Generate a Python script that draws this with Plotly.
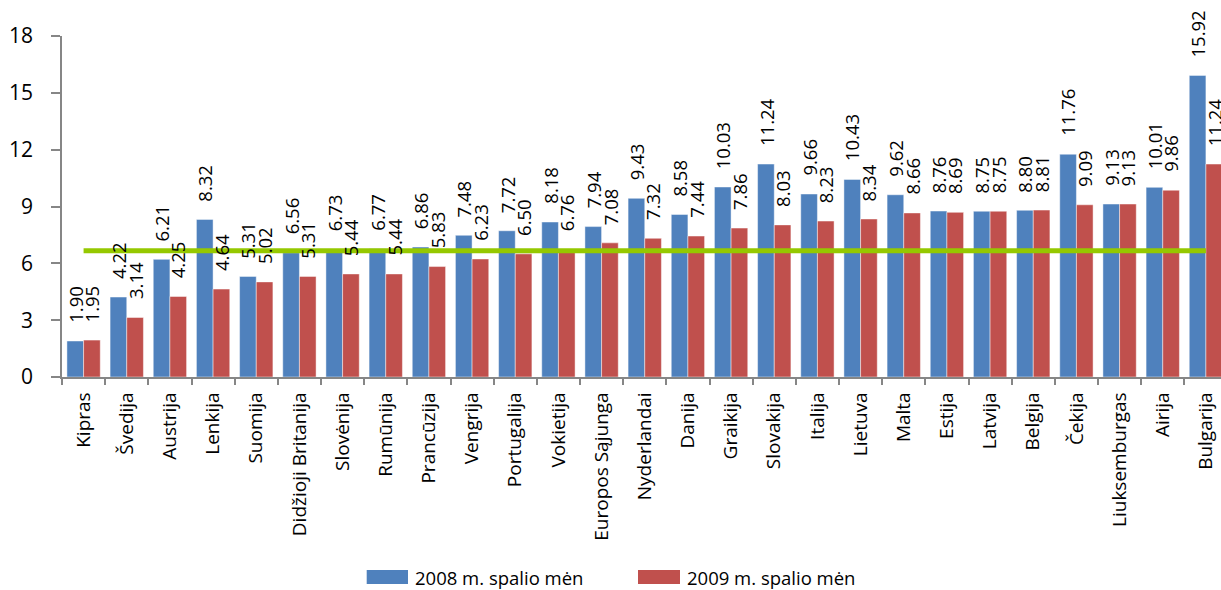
import plotly.graph_objects as go

categories = ["Kipras", "Švedija", "Austrija", "Lenkija", "Suomija", "Didžioji Britanija",
              "Slovėnija", "Rumūnija", "Prancūzija", "Vengrija", "Portugalija", "Vokietija",
              "Europos Sąjunga", "Nyderlandai", "Danija", "Graikija", "Slovakija", "Italija",
              "Lietuva", "Malta", "Estija", "Latvija", "Belgija", "Čekija", "Liuksemburgas",
              "Airija", "Bulgarija"]
values_2008 = [1.90, 4.22, 6.21, 8.32, 5.31, 6.56, 6.73, 6.77, 6.86, 7.48, 7.72, 8.18, 7.94,
               9.43, 8.58, 10.03, 11.24, 9.66, 10.43, 9.62, 8.76, 8.75, 8.80, 11.76, 9.13,
               10.01, 15.92]
values_2009 = [1.95, 3.14, 4.25, 4.64, 5.02, 5.31, 5.44, 5.44, 5.83, 6.23, 6.50, 6.76, 7.08,
               7.32, 7.44, 7.86, 8.03, 8.23, 8.34, 8.66, 8.69, 8.75, 8.81, 9.09, 9.13,
               9.86, 11.24]
reference_level = 6.67
series_names = ["2008 m. spalio mėn", "2009 m. spalio mėn"]
y_ticks = [0, 3, 6, 9, 12, 15, 18]

BLUE = "#4F81BD"
RED = "#C0504D"
GREEN = "#95C800"
FONT = "Open Sans"

W, H = 1221, 590
ML, MR, MT, MB = 62, 0, 36, 213
PW, PH = W - ML - MR, H - MT - MB


def px_x(p):
    return (p - ML) / PW


def px_y(p):
    return (H - MB - p) / PH


fig = go.Figure()
fig.add_trace(go.Bar(x=categories, y=values_2008, name=series_names[0],
                     marker=dict(color=BLUE, line=dict(color="rgba(255,255,255,0.45)", width=1))))
fig.add_trace(go.Bar(x=categories, y=values_2009, name=series_names[1],
                     marker=dict(color=RED, line=dict(color="rgba(255,255,255,0.45)", width=1))))
fig.add_trace(go.Scatter(x=categories, y=[reference_level] * len(categories), mode="lines",
                         line=dict(color=GREEN, width=5), showlegend=False, hoverinfo="skip"))

annotations = []
for i, cat in enumerate(categories):
    for vals, shift in ((values_2008, -8.3), (values_2009, 8.3)):
        annotations.append(dict(x=cat, y=vals[i], xref="x", yref="y", text=f"{vals[i]:.2f}",
                                textangle=-90, showarrow=False, xanchor="center", yanchor="bottom",
                                xshift=shift, yshift=16,
                                font=dict(family=FONT, size=18.5, color="black")))

# manual legend
shapes = []
legend_items = [(366.7, 408, BLUE, 413), (638, 680, RED, 685)]
for (x0, x1, col, tx), name in zip(legend_items, series_names):
    shapes.append(dict(type="rect", xref="paper", yref="paper", x0=px_x(x0), x1=px_x(x1),
                       y0=px_y(584), y1=px_y(570), fillcolor=col, line=dict(width=0)))
    annotations.append(dict(x=px_x(tx), y=px_y(577), xref="paper", yref="paper", text=name,
                            showarrow=False, xanchor="left", yanchor="middle",
                            font=dict(family=FONT, size=18.5, color="black")))

n = len(categories)
fig.update_layout(
    width=W, height=H,
    margin=dict(l=ML, r=MR, t=MT, b=MB, pad=0),
    paper_bgcolor="white", plot_bgcolor="white",
    barmode="group", bargap=0.228, bargroupgap=0,
    showlegend=False,
    font=dict(family=FONT, color="black"),
    annotations=annotations, shapes=shapes,
    xaxis=dict(range=[-0.5, n - 0.5 - 6.5 / 43.15], showline=True, linecolor="#868686",
               linewidth=1.5, ticks="outside", tickson="boundaries", ticklen=6,
               tickcolor="#868686", tickwidth=1.5, tickangle=-90,
               tickfont=dict(family=FONT, size=19, color="black"), showgrid=False,
               ticklabelstandoff=6),
    yaxis=dict(range=[0, 18], tickvals=y_ticks, showline=True, linecolor="#868686",
               linewidth=1.5, ticks="outside", ticklen=9, tickcolor="#868686", tickwidth=1.5,
               tickfont=dict(family=FONT, size=21, color="black"), showgrid=False,
               zeroline=False, ticklabelstandoff=14),
)

fig.write_html("out.html",
               config={"displayModeBar": False},
               post_script="document.body.style.margin='0';document.body.style.padding='0';"
                           "document.documentElement.style.overflow='hidden';")
